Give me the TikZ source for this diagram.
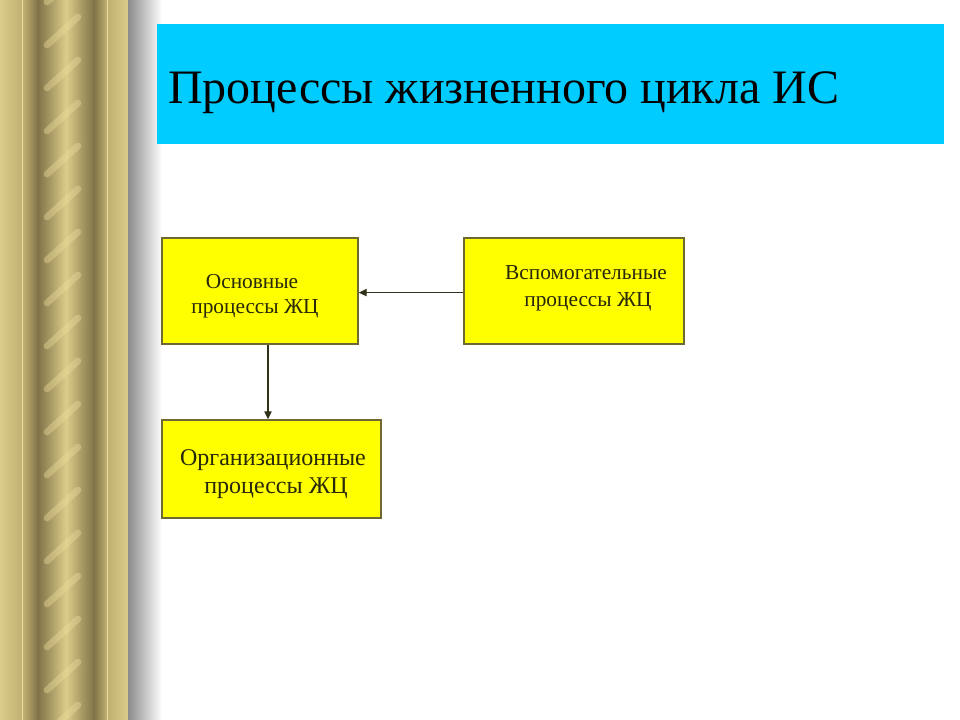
\documentclass[tikz,border=0pt]{standalone}
\usepackage{fontspec}
\setmainfont{Liberation Serif}
\usetikzlibrary{arrows.meta}
\definecolor{cyanbg}{RGB}{0,204,255}
\definecolor{boxfill}{RGB}{255,255,0}
\definecolor{boxline}{RGB}{110,105,50}
\definecolor{arrcol}{RGB}{50,50,25}
\definecolor{txtcol}{RGB}{40,40,10}
\definecolor{goldL}{RGB}{220,204,138}
\definecolor{goldM}{RGB}{192,176,114}
\definecolor{goldD}{RGB}{128,115,72}
\definecolor{goldH}{RGB}{236,222,155}
\tikzset{
  procbox/.style={draw=boxline, line width=1.1pt, fill=boxfill, inner sep=0pt},
  boxtext/.style={text=txtcol, inner sep=0pt, anchor=base},
  conn/.style={draw=arrcol, line width=1pt, -{Triangle[length=6pt,width=5.5pt]}},
  stripe/.style={draw=goldH, line width=5pt, opacity=0.4, line cap=round}
}
\begin{document}
\begin{tikzpicture}[x=0.75pt,y=-0.75pt]
\useasboundingbox (0,0) rectangle (960,720);
\fill[white] (0,0) rectangle (960,720);
% decorative column
\shade[left color=goldL, right color=goldM] (0,0) rectangle (22,720);
\shade[left color=goldM, right color=goldD] (23,0) rectangle (38,720);
\shade[left color=goldD, right color=goldL] (38,0) rectangle (66,720);
\shade[left color=goldL, right color=goldD] (66,0) rectangle (94,720);
\shade[left color=goldD, right color=goldM] (94,0) rectangle (107,720);
\shade[left color=goldM, right color=goldL] (108,0) rectangle (128,720);
\draw[goldH, line width=0.9pt] (22.5,0) -- (22.5,720);
\draw[goldH, line width=0.9pt] (107.5,0) -- (107.5,720);
\foreach \yy in {-20,23,...,760} {
  \draw[stripe] (47,\yy+22) -- (78,\yy-6);
}
\shade[left color=black!45, right color=white] (128,0) rectangle (162,720);
% title
\fill[cyanbg] (157,24) rectangle (944,144);
\node[anchor=base west, inner sep=0pt, font=\fontsize{36}{42}\selectfont] (title) at (168,104) {Процессы жизненного цикла ИС};
% boxes
\node[procbox, minimum width=147pt, minimum height=79.5pt] (A) at (260,291) {};
\node[procbox, minimum width=165pt, minimum height=79.5pt] (B) at (574,291) {};
\node[procbox, minimum width=164.25pt, minimum height=73.5pt] (C) at (271.5,469) {};
% texts
\node[boxtext, font=\fontsize{16}{19}\selectfont] (a1) at (252,288) {Основные};
\node[boxtext, font=\fontsize{16}{19}\selectfont] (a2) at (255,313) {процессы ЖЦ};
\node[boxtext, font=\fontsize{16}{19}\selectfont] (b1) at (586,280) {Вспомогательные};
\node[boxtext, font=\fontsize{16}{19}\selectfont] (b2) at (588,306) {процессы ЖЦ};
\node[boxtext, font=\fontsize{18}{21}\selectfont] (c1) at (273,465) {Организационные};
\node[boxtext, font=\fontsize{18}{21}\selectfont] (c2) at (276,493) {процессы ЖЦ};
% connectors
\draw[conn] ([yshift=-1.2pt]B.west) -- ([yshift=-1.2pt]A.east);
\draw[conn] ([xshift=6pt]A.south) -- ([xshift=6pt]A.south |- C.north);
\end{tikzpicture}
\end{document}
